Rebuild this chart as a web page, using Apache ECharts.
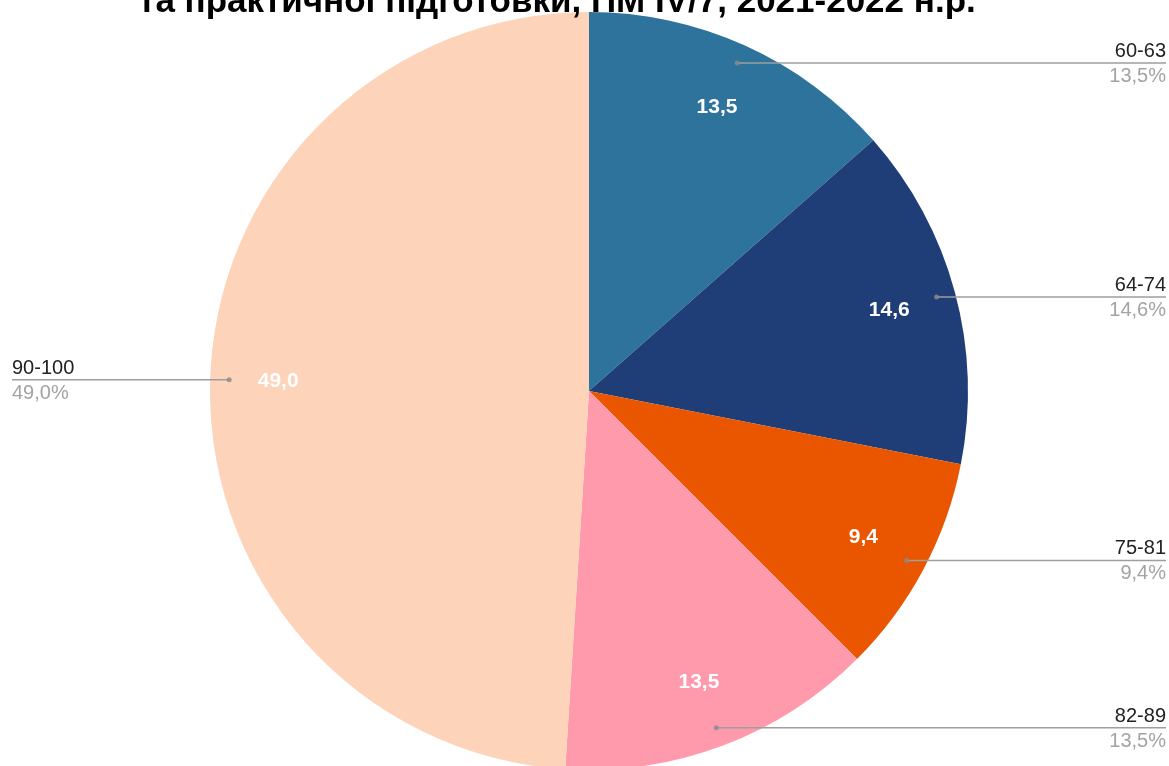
<!DOCTYPE html>
<html>
<head>
<meta charset="utf-8">
<script src="https://cdn.jsdelivr.net/npm/echarts@6/dist/echarts.min.js"></script>
<style>html,body{margin:0;padding:0;background:#fff;}#c{width:1169px;height:766px;}</style>
</head>
<body>
<div id="c"></div>
<script>
const titleText = 'та практичної підготовки, ПМ IV/7, 2021-2022 н.р.';
const categories = ['60-63', '64-74', '75-81', '82-89', '90-100'];
const values = [13.5, 14.6, 9.4, 13.5, 49.0];
const colors = ['#2E739C', '#1F3D76', '#EA5600', '#FF9AAC', '#FDD3B9'];

const CX = 589, CY = 391, R = 379, RDOT = 360;
const FONT = '"Liberation Sans", Arial, sans-serif';
const fmt = v => v.toFixed(1).replace('.', ',');
const total = values.reduce((a, b) => a + b, 0);

const pieData = categories.map((c, i) => ({ name: c, value: values[i], itemStyle: { color: colors[i] } }));
let cum = 0;
const dots = values.map(v => { const mid = (cum + v / 2) / total * 100; cum += v; return [RDOT, mid]; });

const chart = echarts.init(document.getElementById('c'), null, { renderer: 'canvas' });
chart.setOption({
  animation: false,
  backgroundColor: '#ffffff',
  graphic: [{
    type: 'text', x: 557, y: 2, z: 100,
    style: { text: titleText, font: 'bold 35px ' + FONT, fill: '#000', textAlign: 'center', textVerticalAlign: 'middle' }
  }],
  polar: { center: [CX, CY], radius: R },
  angleAxis: { type: 'value', min: 0, max: 100, startAngle: 90, clockwise: true, show: false },
  radiusAxis: { type: 'value', min: 0, max: R, show: false },
  series: [
    {
      type: 'pie', center: [CX, CY], radius: [0, R], startAngle: 90, clockwise: true,
      data: pieData, label: { show: false }, labelLine: { show: false }, silent: true, z: 1
    },
    {
      type: 'pie', center: [CX, CY], radius: [237, R], startAngle: 90, clockwise: true, silent: true, z: 2,
      data: categories.map((c, i) => ({ name: c, value: values[i] })),
      itemStyle: { color: 'rgba(0,0,0,0)' },
      label: {
        show: true, position: 'inside', color: '#fff', fontWeight: 'bold', fontSize: 21,
        fontFamily: FONT,
        formatter: p => fmt(values[p.dataIndex])
      },
      labelLine: { show: false }
    },
    {
      type: 'pie', center: [CX, CY], radius: [0, RDOT], startAngle: 90, clockwise: true, silent: true, z: 3,
      data: categories.map((c, i) => ({ name: c, value: values[i] })),
      itemStyle: { color: 'rgba(0,0,0,0)' },
      label: {
        show: true, position: 'outside',
        formatter: p => '{n|' + p.name + '}\n{p|' + fmt(values[p.dataIndex]) + '%}',
        rich: {
          n: { fontSize: 20, color: '#222', lineHeight: 25, fontFamily: FONT },
          p: { fontSize: 20, color: '#a3a3a3', lineHeight: 25, fontFamily: FONT }
        }
      },
      labelLine: { show: true, length: 0, length2: 10, lineStyle: { color: '#9e9e9e', width: 1.5 } },
      labelLayout: function (params) {
        const pts = params.labelLinePoints;
        const s = pts[0];
        const right = s[0] > CX;
        const ex = right ? 1166 : 12;
        return {
          x: ex, y: s[1] + 1, align: right ? 'right' : 'left', verticalAlign: 'middle',
          labelLinePoints: [s, [ex, s[1]], [ex, s[1]]]
        };
      }
    },
    {
      type: 'scatter', coordinateSystem: 'polar', data: dots, symbolSize: 5, silent: true, z: 10,
      itemStyle: { color: '#8a8a8a' }
    }
  ]
});
</script>
</body>
</html>
